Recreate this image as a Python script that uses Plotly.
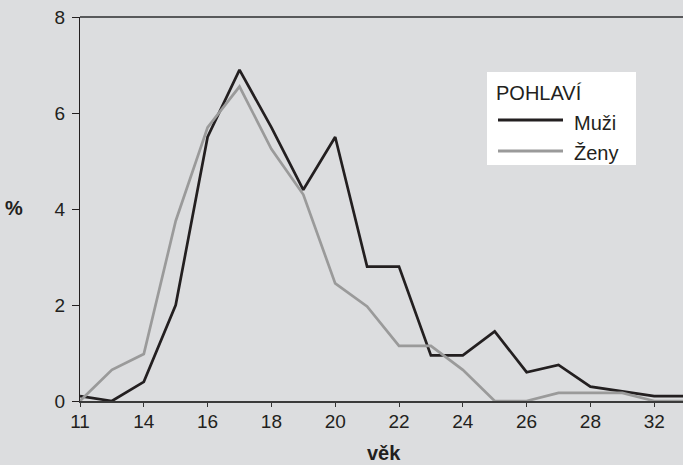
import plotly.graph_objects as go

categories = ["11", "13", "14", "15", "16", "17", "18", "19", "20", "21",
              "22", "23", "24", "25", "26", "27", "28", "30", "32", "34"]
muzi = [0.1, 0.0, 0.4, 2.0, 5.5, 6.9, 5.7, 4.4, 5.5, 2.8,
        2.8, 0.95, 0.95, 1.45, 0.6, 0.75, 0.3, 0.2, 0.1, 0.1]
zeny = [0.0, 0.65, 0.98, 3.75, 5.7, 6.55, 5.25, 4.3, 2.45, 1.97,
        1.15, 1.15, 0.65, 0.0, 0.0, 0.17, 0.17, 0.17, 0.0, 0.0]
tick_labels = ["11", "14", "16", "18", "20", "22", "24", "26", "28", "32"]
y_ticks = [0, 2, 4, 6, 8]

W, H = 683, 465
L, R, T, B = 80, 0, 17, 64
PW, PH = W - L - R, H - T - B

def px(x):
    return (x - L) / PW

def py(y):
    return (H - B - y) / PH

BG = "#dcdddf"
TXT = "#231f20"
FONT = "Liberation Sans, Arial, sans-serif"

fig = go.Figure()
fig.add_trace(go.Scatter(x=categories, y=muzi, mode="lines", name="Muži",
                         line=dict(color="#231f20", width=2.7), cliponaxis=False,
                         showlegend=False))
fig.add_trace(go.Scatter(x=categories, y=zeny, mode="lines", name="Ženy",
                         line=dict(color="#9a9a9a", width=2.7), cliponaxis=False,
                         showlegend=False))

fig.update_layout(
    width=W, height=H,
    margin=dict(l=L, r=R, t=T, b=B, pad=0),
    paper_bgcolor=BG, plot_bgcolor=BG,
    font=dict(family=FONT, size=19, color=TXT),
    xaxis=dict(type="category", categoryorder="array", categoryarray=categories,
               range=[0, PW / 31.9], tickmode="array", tickvals=tick_labels,
               ticktext=tick_labels, ticks="outside", ticklen=4, tickwidth=1,
               tickcolor="#333333", showline=True, linecolor="#3a3a3a", linewidth=2,
               showgrid=False, zeroline=False, layer="below traces",
               ticklabelstandoff=-2),
    yaxis=dict(range=[0, 8], tickmode="array", tickvals=y_ticks,
               ticks="outside", ticklen=7, tickwidth=1, tickcolor=TXT,
               showline=True, linecolor=TXT, linewidth=1, showgrid=False,
               zeroline=False, layer="below traces", ticklabelstandoff=3),
)

# top border line
fig.add_shape(type="line", xref="paper", yref="paper", x0=0, x1=1, y0=1, y1=1,
              line=dict(color="#58595b", width=2))

# manual legend
fig.add_shape(type="rect", xref="paper", yref="paper",
              x0=px(487), x1=px(636), y0=py(165), y1=py(72),
              fillcolor="white", line=dict(width=0), layer="above")
fig.add_shape(type="line", xref="paper", yref="paper",
              x0=px(498), x1=px(563), y0=py(120), y1=py(120),
              line=dict(color="#231f20", width=3), layer="above")
fig.add_shape(type="line", xref="paper", yref="paper",
              x0=px(498), x1=px(563), y0=py(151), y1=py(151),
              line=dict(color="#9a9a9a", width=3), layer="above")

def note(text, x, y, xanchor="left", size=20):
    fig.add_annotation(text=text, xref="paper", yref="paper", x=px(x), y=py(y),
                       xanchor=xanchor, yanchor="middle", showarrow=False,
                       font=dict(family=FONT, size=size, color=TXT))

note("POHLAVÍ", 494, 92.5)
note("Muži", 572, 123)
note("Ženy", 572, 152.5)
note("<b>věk</b>", 384, 453, "center")
note("<b>%</b>", 14, 208, "center")

fig.write_html(
    "out.html",
    config={"displayModeBar": False},
    post_script="document.body.style.margin='0';"
                "document.body.style.background='#dcdddf';"
                "document.body.style.overflow='hidden';",
)
